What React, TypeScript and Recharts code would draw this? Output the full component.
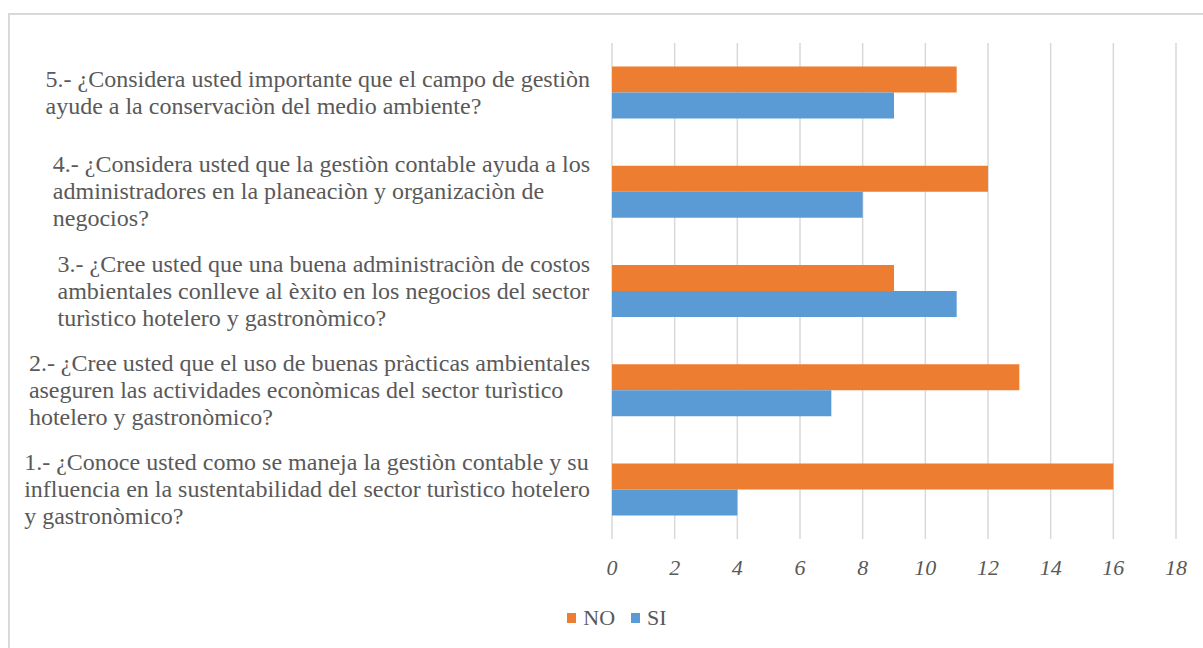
import { BarChart, Bar, XAxis, YAxis, CartesianGrid, Legend } from "recharts";

// questions from top to bottom, with the line breaks of the original labels
const questionLines: string[][] = [
  [
    "5.- ¿Considera usted importante que el campo de gestiòn",
    "ayude a la conservaciòn del medio ambiente?",
  ],
  [
    "4.- ¿Considera usted que la gestiòn contable ayuda a los",
    "administradores en la planeaciòn y organizaciòn de",
    "negocios?",
  ],
  [
    "3.- ¿Cree usted que una buena administraciòn de costos",
    "ambientales conlleve al èxito en los negocios del sector",
    "turìstico hotelero y gastronòmico?",
  ],
  [
    "2.- ¿Cree usted que el uso de buenas pràcticas ambientales",
    "aseguren las actividades econòmicas del sector turìstico",
    "hotelero y gastronòmico?",
  ],
  [
    "1.- ¿Conoce usted como se maneja la gestiòn contable y su",
    "influencia en la sustentabilidad del sector turìstico hotelero",
    "y gastronòmico?",
  ],
];
const noValues = [11, 12, 9, 13, 16];
const siValues = [9, 8, 11, 7, 4];
const xTicks = [0, 2, 4, 6, 8, 10, 12, 14, 16, 18];

const data = questionLines.map((lines, i) => ({
  pregunta: lines.join("\n"),
  NO: noValues[i],
  SI: siValues[i],
}));

const FONT = "'Liberation Serif', 'Times New Roman', serif";
const TEXT = "#595959";

function QuestionTick(props: any) {
  const { x, y, payload } = props;
  const lines: string[] = String(payload.value).split("\n");
  return (
    <foreignObject x={x - 600} y={y - 60} width={600} height={120}>
      <div
        style={{
          height: 120,
          display: "flex",
          alignItems: "center",
          justifyContent: "flex-end",
          fontFamily: FONT,
          fontSize: 24,
          lineHeight: "27px",
          color: TEXT,
        }}
      >
        <div style={{ textAlign: "left", whiteSpace: "nowrap" }}>
          {lines.map((l, i) => (
            <div key={i}>{l}</div>
          ))}
        </div>
      </div>
    </foreignObject>
  );
}

function LegendContent(props: any) {
  const { payload } = props;
  return (
    <div
      style={{
        display: "flex",
        justifyContent: "center",
        alignItems: "center",
        fontFamily: FONT,
        fontSize: 22,
        color: TEXT,
      }}
    >
      {payload.map((p: any, i: number) => (
        <span
          key={p.value}
          style={{ display: "flex", alignItems: "center", marginRight: i < payload.length - 1 ? 16 : 0 }}
        >
          <span style={{ width: 9, height: 10, background: p.color, marginRight: 7 }} />
          {p.value}
        </span>
      ))}
    </div>
  );
}

export default function App() {
  return (
    <div style={{ position: "absolute", left: 0, top: 0, width: 1203, height: 648, overflow: "hidden", background: "#fff" }}>
      <div
        style={{
          position: "absolute",
          left: 8,
          top: 13,
          width: 1400,
          height: 800,
          borderTop: "2px solid #d9d9d9",
          borderLeft: "2px solid #d9d9d9",
        }}
      />
      <div style={{ position: "absolute", left: 0, top: 0 }}>
        <BarChart
          width={1203}
          height={648}
          data={data}
          layout="vertical"
          margin={{ top: 43, right: 27, bottom: 39, left: 0 }}
          barCategoryGap="23.8%"
          barGap={0}
        >
          <CartesianGrid horizontal={false} stroke="#d9d9d9" strokeWidth={1.5} />
          <XAxis
            type="number"
            domain={[0, 18]}
            ticks={xTicks}
            axisLine={false}
            tickLine={false}
            tickSize={0}
            tickMargin={20}
            height={40}
            tick={{ fill: TEXT, fontSize: 22, fontFamily: FONT, fontStyle: "italic" }}
          />
          <YAxis
            type="category"
            dataKey="pregunta"
            width={612}
            axisLine={false}
            tickLine={false}
            tickSize={0}
            tickMargin={22}
            interval={0}
            tick={<QuestionTick />}
          />
          <Legend
            height={30}
            content={<LegendContent />}
            wrapperStyle={{ top: 605, left: 31, width: 1172 }}
          />
          <Bar dataKey="NO" name="NO" fill="#ED7D31" isAnimationActive={false} />
          <Bar dataKey="SI" name="SI" fill="#5B9BD5" isAnimationActive={false} />
        </BarChart>
      </div>
    </div>
  );
}
